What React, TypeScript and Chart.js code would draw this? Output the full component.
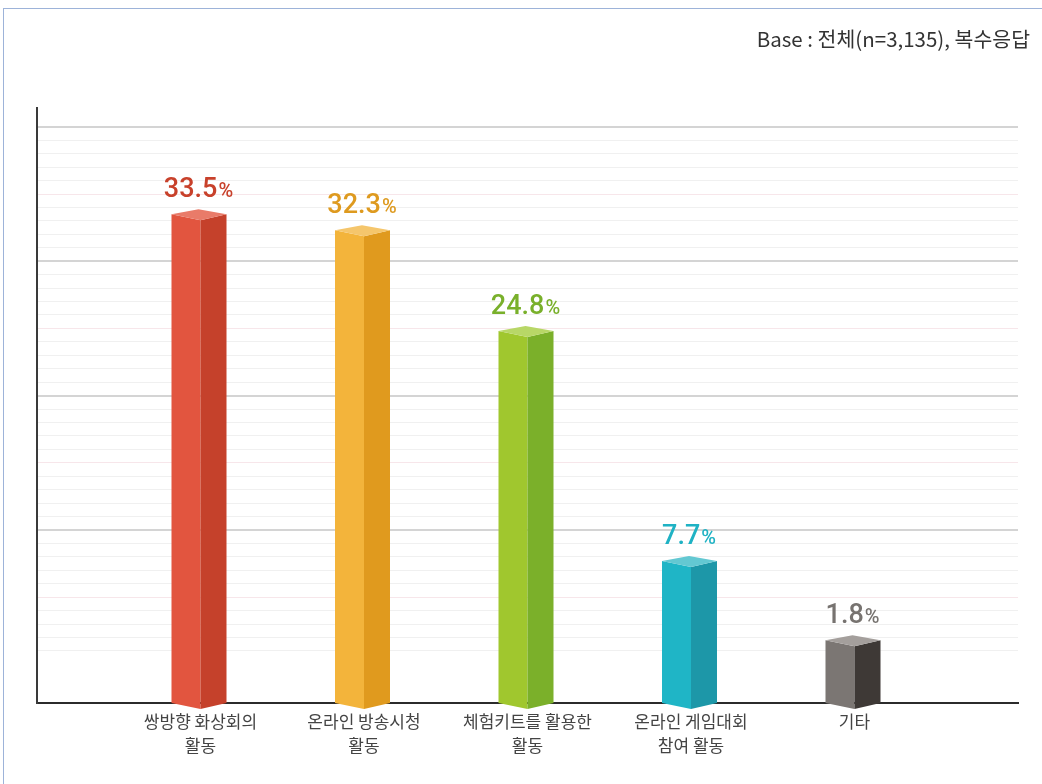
import React, { useEffect, useRef } from "react";
import { Chart, registerables } from "chart.js";

Chart.register(...registerables);

const categories: string[][] = [
  ["쌍방향 화상회의", "활동"],
  ["온라인 방송시청", "활동"],
  ["체험키트를 활용한", "활동"],
  ["온라인 게임대회", "참여 활동"],
  ["기타"],
];
const values: number[] = [33.5, 32.3, 24.8, 7.7, 1.8];
const frontColors = ["#E2553F", "#F3B43B", "#A0C72E", "#1FB5C6", "#7B7673"];
const sideColors = ["#C5412B", "#E09A1E", "#7BB02A", "#1D97A8", "#3E3936"];
const topColors = ["#E97B69", "#F5C66C", "#B8D767", "#63C8D2", "#A49F9C"];
const labelColors = ["#C8412B", "#DE9A1F", "#79B02B", "#1FB2C4", "#777370"];
const axisMin = -2.9;
const axisMax = 41.4;
const baseText = "Base : 전체(n=3,135), 복수응답";

const prismPlugin = {
  id: "prism3d",
  afterDatasetsDraw(chart: any) {
    const ctx = chart.ctx;
    const meta = chart.getDatasetMeta(0);
    meta.data.forEach((el: any, i: number) => {
      const vi = i - 1;
      if (vi < 0 || vi >= values.length) return;
      const { x, y, base } = el.getProps(["x", "y", "base"], true);
      const L = 29, R = 26, dDown = 6, dUp = 5;
      ctx.save();
      // front face
      ctx.beginPath();
      ctx.moveTo(x - L, y);
      ctx.lineTo(x, y + dDown);
      ctx.lineTo(x, base + dDown);
      ctx.lineTo(x - L, base);
      ctx.closePath();
      ctx.fillStyle = frontColors[vi];
      ctx.fill();
      // side face
      ctx.beginPath();
      ctx.moveTo(x, y + dDown);
      ctx.lineTo(x + R, y);
      ctx.lineTo(x + R, base);
      ctx.lineTo(x, base + dDown);
      ctx.closePath();
      ctx.fillStyle = sideColors[vi];
      ctx.fill();
      // top face
      ctx.beginPath();
      ctx.moveTo(x - L, y);
      ctx.lineTo(x - 2, y - dUp);
      ctx.lineTo(x + R, y);
      ctx.lineTo(x, y + dDown);
      ctx.closePath();
      ctx.fillStyle = topColors[vi];
      ctx.fill();
      // value label
      const num = values[vi].toFixed(1);
      ctx.font = "500 27px Roboto";
      const wNum = ctx.measureText(num).width;
      ctx.font = "500 20px Roboto";
      const wPct = ctx.measureText("%").width;
      const total = wNum + wPct + 1;
      const cx = x - 2;
      const left = cx - total / 2;
      const by = y - 17;
      ctx.fillStyle = labelColors[vi];
      ctx.textBaseline = "alphabetic";
      ctx.textAlign = "left";
      ctx.font = "500 27px Roboto";
      ctx.fillText(num, left, by);
      ctx.font = "500 20px Roboto";
      ctx.fillText("%", left + wNum + 1, by);
      ctx.restore();
    });
  },
};

export default function App() {
  const ref = useRef<HTMLCanvasElement | null>(null);
  useEffect(() => {
    if (!ref.current) return;
    const labels: any[] = ["", ...categories, ""];
    const data: (number | null)[] = [null, ...values, null];
    const chart = new Chart(ref.current, {
      type: "bar",
      data: {
        labels,
        datasets: [
          {
            data,
            base: axisMin,
            backgroundColor: "rgba(0,0,0,0)",
            borderWidth: 0,
            barThickness: 55,
          } as any,
        ],
      },
      options: {
        responsive: false,
        animation: false,
        devicePixelRatio: 1,
        layout: { padding: { left: 37, top: 108, right: 24, bottom: 21 } },
        plugins: { legend: { display: false }, tooltip: { enabled: false }, title: { display: false } },
        scales: {
          x: {
            offset: false,
            grid: { display: false, drawTicks: false },
            border: { display: true, color: "#2b2b2b", width: 2 },
            ticks: {
              padding: 6,
              maxRotation: 0,
              autoSkip: false,
              color: "#444444",
              font: { family: "'Noto Sans CJK KR'", size: 17, lineHeight: 1.4 },
            },
          },
          y: {
            min: axisMin,
            max: axisMax,
            ticks: { display: false, stepSize: 1 },
            border: { display: true, color: "#3a3a3a", width: 2 },
            grid: {
              drawTicks: false,
              color: (c: any) => {
                const v = c.tick ? c.tick.value : null;
                if (v == null) return "rgba(0,0,0,0)";
                const r = Math.round(v);
                if (Math.abs(v - r) > 1e-6 || r <= 0 || r > 40) return "rgba(0,0,0,0)";
                if (r % 10 === 0) return "#d4d4d4";
                if (r % 5 === 0) return "#f7e6ea";
                return "#f0f0f0";
              },
              lineWidth: (c: any) => {
                const v = c.tick ? c.tick.value : 0;
                const r = Math.round(v);
                return r % 10 === 0 && r > 0 ? 2 : 1;
              },
            },
          },
        },
      },
      plugins: [prismPlugin],
    });
    return () => chart.destroy();
  }, []);

  return (
    <div>
      <div
        style={{
          position: "absolute",
          left: 3,
          top: 8,
          right: 0,
          bottom: 0,
          borderTop: "1px solid #9db3d9",
          borderLeft: "1px solid #9db3d9",
        }}
      />
      <canvas
        ref={ref}
        width={1042}
        height={784}
        style={{ position: "absolute", left: 0, top: 0, display: "block" }}
      />
      <div
        style={{
          position: "absolute",
          top: 26,
          right: 12,
          fontFamily: "'Noto Sans CJK KR'",
          fontSize: 20.5,
          lineHeight: "24px",
          color: "#333333",
          whiteSpace: "nowrap",
        }}
      >
        {baseText}
      </div>
    </div>
  );
}
